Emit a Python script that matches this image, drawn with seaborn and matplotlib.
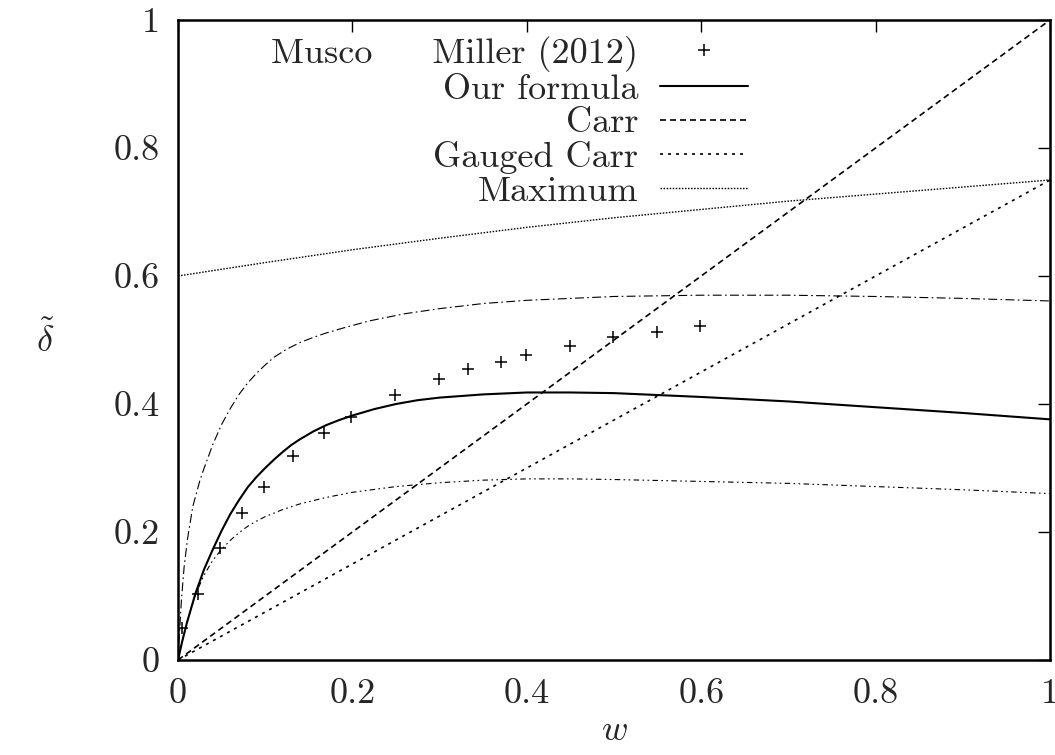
import numpy as np
import pandas as pd
import matplotlib
matplotlib.use("Agg")
import matplotlib.pyplot as plt
import seaborn as sns

# ---------------- data ----------------
miller_w = [0.005, 0.023, 0.048, 0.073, 0.099, 0.132, 0.168, 0.198, 0.249, 0.299,
            0.332, 0.370, 0.399, 0.449, 0.499, 0.549, 0.599]
miller_d = [0.050, 0.103, 0.175, 0.230, 0.271, 0.319, 0.355, 0.379, 0.414, 0.439,
            0.454, 0.466, 0.477, 0.491, 0.504, 0.512, 0.522]

ours_w = [0, 0.005, 0.01, 0.02, 0.03, 0.04, 0.05, 0.06, 0.07, 0.08, 0.09, 0.10, 0.11,
          0.12, 0.13, 0.14, 0.155, 0.17, 0.185, 0.20, 0.225, 0.25, 0.275, 0.30, 0.35,
          0.40, 0.45, 0.50, 0.60, 0.70, 0.80, 0.90, 1.00]
ours_d = [0, 0.030, 0.057, 0.104, 0.142, 0.173, 0.202, 0.228, 0.250, 0.270, 0.286, 0.300,
          0.313, 0.325, 0.336, 0.345, 0.357, 0.367, 0.375, 0.382, 0.392, 0.400, 0.406,
          0.410, 0.415, 0.418, 0.418, 0.417, 0.411, 0.404, 0.395, 0.386, 0.376]

carr_w = [0.0, 1.0]
carr_d = [0.0, 1.0]

gauged_w = [0.0, 1.0]
gauged_d = [0.0, 0.75]

max_w = [0.0, 0.1, 0.2, 0.3, 0.4, 0.5, 0.6, 0.7, 0.8, 0.9, 1.0]
max_d = [0.600, 0.621, 0.641, 0.659, 0.676, 0.691, 0.704, 0.717, 0.728, 0.739, 0.750]

upper_w = [0, 0.002, 0.004, 0.007, 0.011, 0.017, 0.025, 0.03, 0.04, 0.05, 0.06, 0.07,
           0.08, 0.09, 0.10, 0.11, 0.125, 0.14, 0.155, 0.17, 0.19, 0.22, 0.26, 0.30,
           0.35, 0.40, 0.50, 0.60, 0.70, 0.80, 0.90, 1.00]
upper_d = [0, 0.05, 0.095, 0.145, 0.19, 0.24, 0.28, 0.30, 0.337, 0.368, 0.393, 0.415,
           0.433, 0.448, 0.461, 0.473, 0.486, 0.496, 0.504, 0.511, 0.519, 0.530, 0.541,
           0.549, 0.557, 0.562, 0.568, 0.570, 0.570, 0.568, 0.565, 0.561]

lower_w = [0, 0.005, 0.01, 0.02, 0.03, 0.04, 0.05, 0.06, 0.07, 0.08, 0.09, 0.10, 0.12,
           0.14, 0.17, 0.20, 0.25, 0.30, 0.35, 0.40, 0.45, 0.50, 0.60, 0.70, 0.80, 0.90,
           1.00]
lower_d = [0, 0.030, 0.058, 0.102, 0.133, 0.156, 0.173, 0.187, 0.199, 0.209, 0.217, 0.224,
           0.235, 0.244, 0.254, 0.262, 0.271, 0.277, 0.281, 0.283, 0.283, 0.282, 0.279,
           0.276, 0.271, 0.266, 0.260]

tick_vals = [0, 0.2, 0.4, 0.6, 0.8, 1]
tick_labels = ["0", "0.2", "0.4", "0.6", "0.8", "1"]

# ---------------- style ----------------
sns.set_style("white")
plt.rcParams["font.family"] = ["cmr10", "DejaVu Serif"]
plt.rcParams["mathtext.fontset"] = "cm"
plt.rcParams["axes.formatter.use_mathtext"] = True
FS = 26

W, H = 1055, 755
fig = plt.figure(figsize=(W / 100, H / 100), dpi=100)
ax = fig.add_axes([178 / W, 1 - 660 / H, 872 / W, 640 / H])

# ---------------- plotting ----------------
sns.scatterplot(x=miller_w, y=miller_d, marker="+", s=80, color="black",
                linewidth=1.1, ax=ax, label="Musco     Miller (2012)", zorder=5)
sns.lineplot(x=ours_w, y=ours_d, color="black", lw=1.5, ax=ax, label="Our formula")
sns.lineplot(x=carr_w, y=carr_d, color="black", lw=1.2, ax=ax, label="Carr",
             linestyle=(0, (3.6, 2.4)))
sns.lineplot(x=gauged_w, y=gauged_d, color="black", lw=1.2, ax=ax, label="Gauged Carr",
             linestyle=(0, (1.8, 3.0)))
sns.lineplot(x=max_w, y=max_d, color="black", lw=1.0, ax=ax, label="Maximum",
             linestyle=(0, (1.1, 1.1)))
sns.lineplot(x=upper_w, y=upper_d, color="black", lw=0.8, ax=ax,
             linestyle=(0, (8, 3, 1.5, 3)), legend=False)
sns.lineplot(x=lower_w, y=lower_d, color="black", lw=0.8, ax=ax,
             linestyle=(0, (5, 3, 1.5, 3, 1.5, 3)), legend=False)

ax.set_xlim(0, 1)
ax.set_ylim(0, 1)
ax.set_xticks(tick_vals)
ax.set_xticklabels(tick_labels)
ax.set_yticks(tick_vals)
ax.set_yticklabels(tick_labels)
ax.tick_params(direction="in", length=8.5, width=1.0, top=True, right=True,
               labelsize=FS, pad=13, color="black")
for sp in ax.spines.values():
    sp.set_linewidth(1.8)
    sp.set_color("black")
    sp.set_visible(True)

ax.set_xlabel(r"$w$", fontsize=FS, labelpad=4)
ax.set_ylabel(r"$\tilde{\delta}$", fontsize=FS, rotation=0, ha="center", va="center")
ax.yaxis.set_label_coords(-0.1525, 0.5)

leg = ax.legend(loc="upper right", bbox_to_anchor=(0.654, 0.975), frameon=False,
                fontsize=FS, markerfirst=False, borderpad=0, borderaxespad=0,
                handlelength=2.45, handletextpad=0.6, labelspacing=0.04,
                scatteryoffsets=[0.5])

fig.savefig("out.png", dpi=100)
